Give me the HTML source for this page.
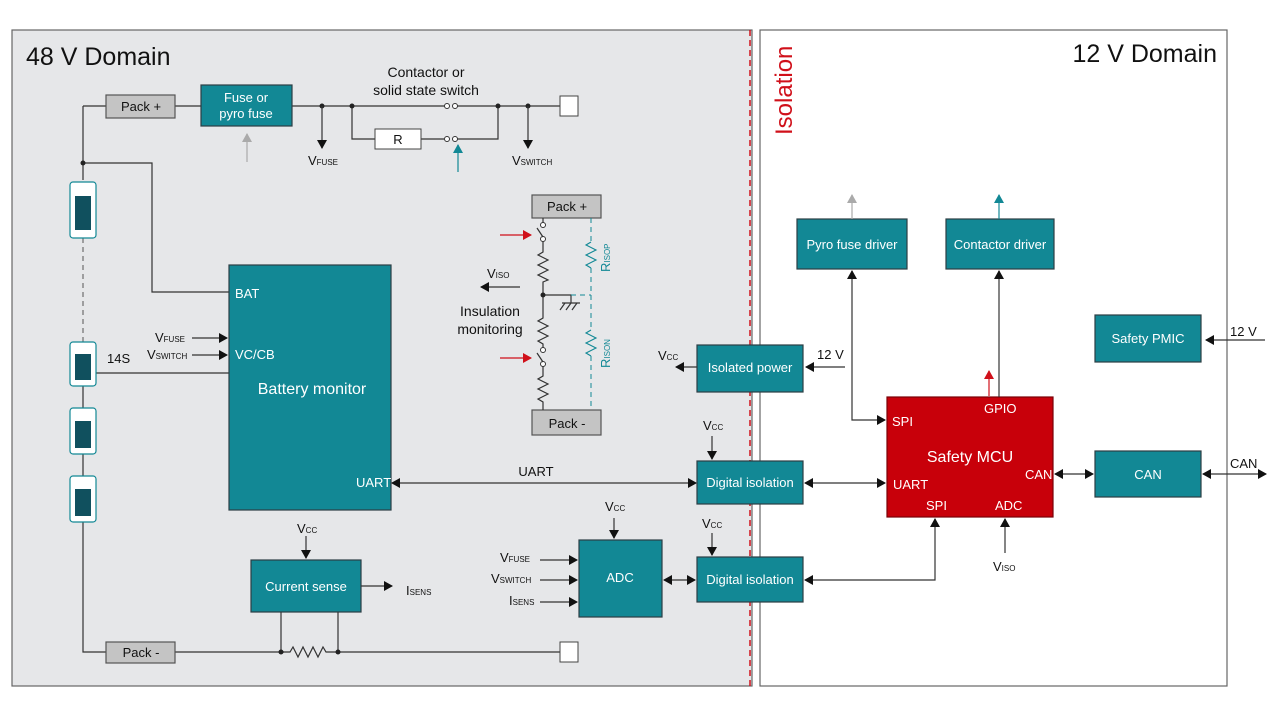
<!DOCTYPE html>
<html><head><meta charset="utf-8"><style>
html,body{margin:0;padding:0;background:#fff;}
svg{display:block;font-family:"Liberation Sans",sans-serif;}
.t{fill:#fff;font-size:13px;text-anchor:middle;}
.k{fill:#111;font-size:13px;}
.w{stroke:#333;stroke-width:1.2;fill:none;}
.box{fill:#128895;stroke:#2c3e44;stroke-width:1.2;}
.g{fill:#c4c4c4;stroke:#555;stroke-width:1.2;}
</style></head><body>
<svg width="1280" height="723" viewBox="0 0 1280 723">
<defs>
<marker id="a" markerWidth="10" markerHeight="10" refX="8" refY="5" orient="auto-start-reverse" markerUnits="userSpaceOnUse"><path d="M0,0 L9,5 L0,10 z" fill="#111"/></marker>
<marker id="ag" markerWidth="10" markerHeight="10" refX="8" refY="5" orient="auto" markerUnits="userSpaceOnUse"><path d="M0,0 L9,5 L0,10 z" fill="#aaa"/></marker>
<marker id="at" markerWidth="10" markerHeight="10" refX="8" refY="5" orient="auto" markerUnits="userSpaceOnUse"><path d="M0,0 L9,5 L0,10 z" fill="#128895"/></marker>
<marker id="ar" markerWidth="10" markerHeight="10" refX="8" refY="5" orient="auto" markerUnits="userSpaceOnUse"><path d="M0,0 L9,5 L0,10 z" fill="#d0101a"/></marker>
</defs>
<rect width="1280" height="723" fill="#fff"/>
<rect x="12" y="30" width="740" height="656" fill="#e6e7e9" stroke="#666" stroke-width="1.2"/>
<rect x="760" y="30" width="467" height="656" fill="#fff" stroke="#666" stroke-width="1.2"/>
<line x1="750" y1="30" x2="750" y2="686" stroke="#d0101a" stroke-width="1.5" stroke-dasharray="6,4"/>
<text x="26" y="65" style="font-size:25px" fill="#111">48 V Domain</text>
<text x="1217" y="62" style="font-size:25px;text-anchor:end" fill="#111">12 V Domain</text>
<text transform="translate(792,135) rotate(-90)" style="font-size:24px" fill="#d0101a">Isolation</text>

<path class="w" d="M175,106 H201 M292,106 H445 M455,106 H560 M83,106 H106 M83,106 V180"/>
<path class="w" d="M352,106 V139 H375 M421,139 H444 M454,139 H498 V106"/>
<circle cx="447" cy="106" r="2.5" fill="#fff" stroke="#333"/><circle cx="455" cy="106" r="2.5" fill="#fff" stroke="#333"/>
<circle cx="447" cy="139" r="2.5" fill="#fff" stroke="#333"/><circle cx="455" cy="139" r="2.5" fill="#fff" stroke="#333"/>
<circle cx="322" cy="106" r="2.5" fill="#222"/><circle cx="352" cy="106" r="2.5" fill="#222"/><circle cx="498" cy="106" r="2.5" fill="#222"/><circle cx="528" cy="106" r="2.5" fill="#222"/>
<rect x="560" y="96" width="18" height="20" fill="#fff" stroke="#444"/>
<rect class="g" x="106" y="95" width="69" height="23"/><text x="141" y="111" class="k" text-anchor="middle">Pack +</text>
<rect class="box" x="201" y="85" width="91" height="41"/><text x="246" y="102" class="t">Fuse or</text><text x="246" y="118" class="t">pyro fuse</text>
<rect x="375" y="129" width="46" height="20" fill="#fff" stroke="#444"/><text x="398" y="144" class="k" text-anchor="middle">R</text>
<text x="426" y="77" class="k" text-anchor="middle" style="font-size:14px">Contactor or</text>
<text x="426" y="95" class="k" text-anchor="middle" style="font-size:14px">solid state switch</text>
<line class="w" x1="322" y1="106" x2="322" y2="148" marker-end="url(#a)"/>
<line class="w" x1="528" y1="106" x2="528" y2="148" marker-end="url(#a)"/>
<text x="308" y="165" class="k">V<tspan style="font-size:8px">FUSE</tspan></text>
<text x="512" y="165" class="k">V<tspan style="font-size:8px">SWITCH</tspan></text>
<line x1="247" y1="162" x2="247" y2="134" stroke="#aaa" stroke-width="1.2" marker-end="url(#ag)"/>
<line x1="458" y1="172" x2="458" y2="145" stroke="#128895" stroke-width="1.2" marker-end="url(#at)"/>

<path class="w" d="M83,163 H152 V292 H229 M96,373 H229 M83,522 V652 H106 M175,652 H560"/>
<circle cx="83" cy="163" r="2.5" fill="#222"/>
<line x1="83" y1="238" x2="83" y2="342" stroke="#555" stroke-dasharray="5,4"/>
<path class="w" d="M83,386 V408 M83,454 V476"/>
<g fill="#fff" stroke="#128895" stroke-width="1.2">
<rect x="70" y="182" width="26" height="56" rx="3"/><rect x="70" y="342" width="26" height="44" rx="3"/><rect x="70" y="408" width="26" height="46" rx="3"/><rect x="70" y="476" width="26" height="46" rx="3"/>
</g>
<g fill="#10505e"><rect x="75" y="196" width="16" height="34"/><rect x="75" y="354" width="16" height="26"/><rect x="75" y="421" width="16" height="27"/><rect x="75" y="489" width="16" height="27"/></g>
<text x="107" y="363" class="k">14S</text>
<rect class="g" x="106" y="642" width="69" height="21"/><text x="141" y="657" class="k" text-anchor="middle">Pack -</text>
<rect x="560" y="642" width="18" height="20" fill="#fff" stroke="#444"/>

<rect class="box" x="229" y="265" width="162" height="245"/>
<text x="235" y="298" class="t" style="text-anchor:start">BAT</text>
<text x="235" y="359" class="t" style="text-anchor:start">VC/CB</text>
<text x="312" y="394" class="t" style="font-size:16px">Battery monitor</text>
<text x="356" y="487" class="t" style="text-anchor:start">UART</text>
<text x="155" y="342" class="k">V<tspan style="font-size:8px">FUSE</tspan></text>
<text x="147" y="359" class="k">V<tspan style="font-size:8px">SWITCH</tspan></text>
<line class="w" x1="192" y1="338" x2="227" y2="338" marker-end="url(#a)"/>
<line class="w" x1="192" y1="355" x2="227" y2="355" marker-end="url(#a)"/>
<line class="w" x1="392" y1="483" x2="696" y2="483" marker-start="url(#a)" marker-end="url(#a)"/>
<text x="536" y="476" class="k" text-anchor="middle">UART</text>

<rect class="g" x="532" y="195" width="69" height="23"/><text x="567" y="211" class="k" text-anchor="middle">Pack +</text>
<rect class="g" x="532" y="410" width="69" height="25"/><text x="567" y="428" class="k" text-anchor="middle">Pack -</text>
<path class="w" d="M543,218 V223 M543,240 V252 l-5,3 10,5 -10,5 10,5 -10,5 10,5 -5,2 V318 l-5,3 10,5 -10,5 10,5 -10,5 5,3 V348 M543,365 V376 l-5,3 10,5 -10,5 10,5 -10,5 5,3 V410"/>
<path class="w" d="M543,295 H571 V303 M562,303 H580 M565,303 l-5,7 M571,303 l-5,7 M577,303 l-5,7"/>
<circle cx="543" cy="225" r="2.5" fill="#fff" stroke="#333"/><circle cx="543" cy="239" r="2.5" fill="#fff" stroke="#333"/>
<circle cx="543" cy="350" r="2.5" fill="#fff" stroke="#333"/><circle cx="543" cy="364" r="2.5" fill="#fff" stroke="#333"/>
<path class="w" d="M537,228 L543,237 M537,353 L543,362"/>
<circle cx="543" cy="295" r="2.5" fill="#222"/>
<path d="M591,218 V242 M591,268 V330 M591,356 V410 M571,295 H591" fill="none" stroke="#128895" stroke-dasharray="5,4"/>
<path d="M591,242 l-5,3 10,5 -10,5 10,5 -10,5 5,3 M591,330 l-5,3 10,5 -10,5 10,5 -10,5 5,3" fill="none" stroke="#128895" stroke-width="1.1"/>
<text transform="translate(610,272) rotate(-90)" style="font-size:13px" fill="#128895">R<tspan style="font-size:8px">ISOP</tspan></text>
<text transform="translate(610,368) rotate(-90)" style="font-size:13px" fill="#128895">R<tspan style="font-size:8px">ISON</tspan></text>
<line x1="500" y1="235" x2="531" y2="235" stroke="#d0101a" stroke-width="1.2" marker-end="url(#ar)"/>
<line x1="500" y1="358" x2="531" y2="358" stroke="#d0101a" stroke-width="1.2" marker-end="url(#ar)"/>
<line class="w" x1="520" y1="287" x2="481" y2="287" marker-end="url(#a)"/>
<text x="487" y="278" class="k">V<tspan style="font-size:8px">ISO</tspan></text>
<text x="490" y="316" class="k" text-anchor="middle" style="font-size:14px">Insulation</text>
<text x="490" y="334" class="k" text-anchor="middle" style="font-size:14px">monitoring</text>

<rect class="box" x="697" y="345" width="106" height="47"/><text x="750" y="372" class="t">Isolated power</text>
<line class="w" x1="697" y1="367" x2="676" y2="367" marker-end="url(#a)"/>
<text x="658" y="360" class="k">V<tspan style="font-size:8px">CC</tspan></text>
<line class="w" x1="845" y1="367" x2="806" y2="367" marker-end="url(#a)"/>
<text x="817" y="359" class="k">12 V</text>
<rect class="box" x="697" y="461" width="106" height="43"/><text x="750" y="487" class="t">Digital isolation</text>
<line class="w" x1="712" y1="436" x2="712" y2="459" marker-end="url(#a)"/>
<text x="703" y="430" class="k">V<tspan style="font-size:8px">CC</tspan></text>
<rect class="box" x="697" y="557" width="106" height="45"/><text x="750" y="584" class="t">Digital isolation</text>
<line class="w" x1="712" y1="533" x2="712" y2="555" marker-end="url(#a)"/>
<text x="702" y="528" class="k">V<tspan style="font-size:8px">CC</tspan></text>

<rect class="box" x="579" y="540" width="83" height="77"/><text x="620" y="582" class="t">ADC</text>
<line class="w" x1="614" y1="518" x2="614" y2="538" marker-end="url(#a)"/>
<text x="605" y="511" class="k">V<tspan style="font-size:8px">CC</tspan></text>
<line class="w" x1="540" y1="560" x2="577" y2="560" marker-end="url(#a)"/>
<line class="w" x1="540" y1="580" x2="577" y2="580" marker-end="url(#a)"/>
<line class="w" x1="540" y1="602" x2="577" y2="602" marker-end="url(#a)"/>
<text x="500" y="562" class="k">V<tspan style="font-size:8px">FUSE</tspan></text>
<text x="491" y="583" class="k">V<tspan style="font-size:8px">SWITCH</tspan></text>
<text x="509" y="605" class="k">I<tspan style="font-size:8px">SENS</tspan></text>
<line class="w" x1="664" y1="580" x2="695" y2="580" marker-start="url(#a)" marker-end="url(#a)"/>

<rect class="box" x="251" y="560" width="110" height="52"/><text x="306" y="591" class="t">Current sense</text>
<line class="w" x1="306" y1="536" x2="306" y2="558" marker-end="url(#a)"/>
<text x="297" y="533" class="k">V<tspan style="font-size:8px">CC</tspan></text>
<line class="w" x1="361" y1="586" x2="392" y2="586" marker-end="url(#a)"/>
<text x="406" y="595" class="k">I<tspan style="font-size:8px">SENS</tspan></text>
<path class="w" d="M281,612 V652 M338,612 V652"/>
<rect x="284" y="646" width="52" height="12" fill="#e6e7e9"/>
<path d="M282,652 H290 l3,-5 5,10 5,-10 5,10 5,-10 5,10 5,-10 3,5 H337" fill="none" stroke="#333" stroke-width="1.2"/>
<circle cx="281" cy="652" r="2.5" fill="#222"/><circle cx="338" cy="652" r="2.5" fill="#222"/>

<rect class="box" x="797" y="219" width="110" height="50"/><text x="852" y="249" class="t">Pyro fuse driver</text>
<line x1="852" y1="219" x2="852" y2="195" stroke="#aaa" stroke-width="1.2" marker-end="url(#ag)"/>
<rect class="box" x="946" y="219" width="108" height="50"/><text x="1000" y="249" class="t">Contactor driver</text>
<line x1="999" y1="219" x2="999" y2="195" stroke="#128895" stroke-width="1.2" marker-end="url(#at)"/>
<rect class="box" x="1095" y="315" width="106" height="47"/><text x="1148" y="343" class="t">Safety PMIC</text>
<line class="w" x1="1265" y1="340" x2="1206" y2="340" marker-end="url(#a)"/>
<text x="1230" y="336" class="k">12 V</text>
<rect x="887" y="397" width="166" height="120" fill="#c8000a" stroke="#7a0006" stroke-width="1.2"/>
<text x="970" y="462" class="t" style="font-size:16px">Safety MCU</text>
<text x="892" y="426" class="t" style="text-anchor:start">SPI</text>
<text x="984" y="413" class="t" style="text-anchor:start">GPIO</text>
<text x="893" y="489" class="t" style="text-anchor:start">UART</text>
<text x="1025" y="479" class="t" style="text-anchor:start">CAN</text>
<text x="926" y="510" class="t" style="text-anchor:start">SPI</text>
<text x="995" y="510" class="t" style="text-anchor:start">ADC</text>
<path class="w" d="M852,271 V420 H885" marker-start="url(#a)" marker-end="url(#a)"/>
<line class="w" x1="999" y1="397" x2="999" y2="271" marker-end="url(#a)"/>
<line x1="989" y1="396" x2="989" y2="371" stroke="#d0101a" stroke-width="1.2" marker-end="url(#ar)"/>
<line class="w" x1="805" y1="483" x2="885" y2="483" marker-start="url(#a)" marker-end="url(#a)"/>
<path class="w" d="M935,519 V580 H805" marker-start="url(#a)" marker-end="url(#a)"/>
<line class="w" x1="1005" y1="553" x2="1005" y2="519" marker-end="url(#a)"/>
<text x="993" y="571" class="k">V<tspan style="font-size:8px">ISO</tspan></text>
<rect class="box" x="1095" y="451" width="106" height="46"/><text x="1148" y="479" class="t">CAN</text>
<line class="w" x1="1055" y1="474" x2="1093" y2="474" marker-start="url(#a)" marker-end="url(#a)"/>
<line class="w" x1="1203" y1="474" x2="1266" y2="474" marker-start="url(#a)" marker-end="url(#a)"/>
<text x="1230" y="468" class="k">CAN</text>
</svg>
</body></html>
